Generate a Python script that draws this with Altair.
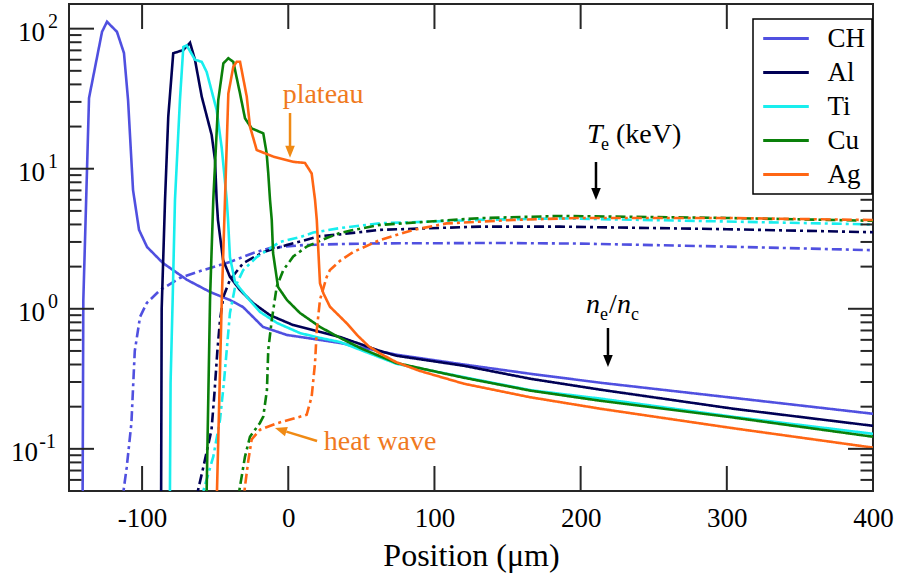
import altair as alt
import pandas as pd

FONT = "Liberation Serif"
FRAME = "#262626"
ORANGE_TXT = "#F07A1E"
ORANGE_ARW = "#F08A14"

materials = ["CH", "Al", "Ti", "Cu", "Ag"]
colors = ["#5050E0", "#000055", "#18EEEE", "#0A800A", "#FF6614"]

# ---------------- n_e / n_c (solid) ----------------
ch_ne_x = [-140.7, -140.2, -136.3, -127.4, -124.0, -117.2, -112.4, -109.6, -106.2, -102.1, -96.6, -85.7, -69.3, -53.6, -39.9, -31.0, -24.1, -17.3, -0.9, 12.8, 35.4, 74, 120, 166, 214, 305, 400]
ch_ne_y = [0.04, 1.15, 32, 95, 112, 95, 67, 31, 7.05, 3.66, 2.76, 2.12, 1.61, 1.32, 1.155, 1.03, 0.874, 0.742, 0.65, 0.619, 0.57, 0.47, 0.40, 0.343, 0.296, 0.231, 0.178]

al_ne_x = [-87.0, -86.6, -84.3, -82.1, -78.7, -71.8, -67.2, -63.8, -59.2, -52.4, -50.1, -49.0, -48.1, -44.6, -39.9, -33.0, -24.1, -12.5, 3.2, 21.7, 35.4, 62.7, 74, 120, 166, 214, 305, 400]
al_ne_y = [0.04, 1.0, 6.0, 23.5, 66.7, 70.4, 79.4, 59.8, 32.7, 17.4, 11.5, 6.0, 4.3, 2.23, 1.69, 1.36, 1.10, 0.90, 0.766, 0.683, 0.629, 0.50, 0.462, 0.392, 0.316, 0.264, 0.193, 0.146]

ti_ne_x = [-81.0, -80.5, -79.1, -77.5, -74.1, -71.8, -69.5, -63.8, -59.2, -55.8, -49.0, -45.5, -42.1, -41.2, -39.9, -36.4, -28.2, -19.3, -7.7, 8.0, 21.7, 35.4, 74, 120, 166, 214, 305, 400]
ti_ne_y = [0.04, 0.3, 1.15, 6.0, 31, 74, 76, 60, 58, 49, 26.3, 14, 6.0, 4.31, 2.34, 1.55, 1.21, 0.949, 0.792, 0.671, 0.619, 0.579, 0.405, 0.325, 0.262, 0.228, 0.169, 0.128]

cu_ne_x = [-56.0, -53.5, -51.3, -47.9, -44.4, -41.0, -37.6, -33.0, -29.6, -25.0, -17.1, -14.8, -13.7, -12.5, -11.3, -10.4, -7.0, -0.9, 8.0, 21.7, 35.4, 50, 74, 120, 166, 214, 305, 400]
cu_ne_y = [0.04, 1.2, 6.0, 30.9, 56.6, 61.5, 58, 34.4, 22.9, 19.4, 17.9, 12.9, 9.3, 6.0, 4.3, 2.5, 1.43, 1.155, 0.933, 0.742, 0.62, 0.52, 0.41, 0.322, 0.26, 0.22, 0.167, 0.122]

ag_ne_x = [-49.0, -45.5, -43.3, -41.0, -37.6, -35.3, -33.0, -28.4, -26.2, -21.6, -10.2, 3.4, 11.4, 16.0, 18.3, 19.5, 21.7, 24.0, 28.5, 40.0, 47, 55, 62.7, 74, 90, 120, 165, 214, 305, 400]
ag_ne_y = [0.04, 1.15, 6.0, 34.4, 53.5, 58, 58, 32.7, 20, 13.6, 12.2, 11.2, 11.0, 9.25, 6.0, 4.31, 1.52, 1.29, 1.035, 0.788, 0.65, 0.54, 0.48, 0.415, 0.36, 0.292, 0.234, 0.193, 0.140, 0.102]

# ---------------- T_e in keV (dash-dot) ----------------
ch_te_x = [-114, -110.5, -107.3, -106, -105, -101.4, -96.8, -87.7, -74.1, -58.1, -39.9, -23.9, -12.5, 10.3, 35.4, 63, 145, 200, 300, 400]
ch_te_y = [0.04, 0.074, 0.153, 0.3, 0.5, 0.874, 1.1, 1.36, 1.66, 1.89, 2.16, 2.5, 2.72, 2.85, 2.9, 2.93, 2.95, 2.92, 2.78, 2.62]

al_te_x = [-64, -58.1, -52.5, -50.5, -48.5, -46.7, -44.4, -39.9, -30.8, -17.1, -1.1, 21.7, 35.4, 62.8, 131, 186, 300, 400]
al_te_y = [0.04, 0.074, 0.137, 0.25, 0.5, 0.83, 1.22, 1.61, 2.12, 2.54, 2.85, 3.3, 3.4, 3.66, 3.86, 3.86, 3.7, 3.52]

ti_te_x = [-60, -58.1, -51.3, -46.7, -44, -42.1, -39.9, -36.4, -30.8, -21.6, -10.2, -5.7, 8, 17.1, 35.4, 62.8, 131.2, 186, 300, 400]
ti_te_y = [0.04, 0.05, 0.088, 0.161, 0.3, 0.507, 0.933, 1.43, 1.89, 2.34, 2.8, 3.0, 3.25, 3.5, 3.77, 4.08, 4.31, 4.42, 4.2, 4.0]

cu_te_x = [-35, -33.0, -29.6, -26.2, -19.4, -17.1, -14.6, -13.7, -11.3, -7.9, -3.4, 3.4, 12.6, 26.3, 35.4, 44.3, 62.8, 131.2, 186, 300, 400]
cu_te_y = [0.04, 0.054, 0.088, 0.122, 0.153, 0.17, 0.263, 0.507, 0.83, 1.44, 1.89, 2.36, 2.78, 3.2, 3.48, 3.65, 3.97, 4.44, 4.6, 4.45, 4.25]

ag_te_x = [-31, -29.6, -27.3, -25.0, -19.3, -7.9, 12.6, 16.0, 18.3, 19.5, 21.7, 26.3, 28.5, 35.4, 44.6, 62.8, 85.6, 108.4, 154, 200, 300, 400]
ag_te_y = [0.04, 0.054, 0.083, 0.117, 0.137, 0.152, 0.175, 0.236, 0.41, 0.705, 1.16, 1.69, 1.89, 2.2, 2.55, 3.1, 3.66, 4.07, 4.31, 4.45, 4.45, 4.3]

# ---------------- axes ----------------
x_ticks = [-100, 0, 100, 200, 300, 400]
y_major = [0.1, 1, 10, 100]
y_exp = ["-1", "0", "1", "2"]
y_minor = [0.05, 0.06, 0.07, 0.08, 0.09, 0.2, 0.3, 0.4, 0.5, 0.6, 0.7, 0.8, 0.9,
           2, 3, 4, 5, 6, 7, 8, 9, 20, 30, 40, 50, 60, 70, 80, 90]

# ---------------- annotations (data units) ----------------
orange_labels = ["plateau", "heat wave"]
orange_label_x = [23.8, 62.8]
orange_label_y = [29.5, 0.098]

ital_txt = ["T", "n", "n"]
ital_x = [204.3, 203.7, 224.9]
ital_y = [15.3, 0.933, 0.933]
sub_txt = ["e", "e", "c"]
sub_x = [213.9, 213.3, 234.5]
sub_y = [13.6, 0.832, 0.832]
plain_txt = ["(keV)", "/"]
plain_x = [224.2, 219.4]
plain_y = [15.3, 0.933]

# arrows: shaft start/end and head centre
down_black_x = [210.5, 218.7]
down_black_y1 = [11.17, 0.729]
down_black_y2 = [7.28, 0.468]
down_black_head = [6.6, 0.424]
down_orange_x = [1.2]
down_orange_y1 = [25.0]
down_orange_y2 = [14.5]
down_orange_head = [13.2]
hw_x1, hw_y1, hw_x2, hw_y2 = [19.7], [0.1138], [-1.3], [0.1328]
hw_head_x, hw_head_y = [-5.2], [0.1368]

W, H = 804, 487

series = [
    ("CH", "ne", ch_ne_x, ch_ne_y), ("CH", "Te", ch_te_x, ch_te_y),
    ("Al", "ne", al_ne_x, al_ne_y), ("Al", "Te", al_te_x, al_te_y),
    ("Ti", "ne", ti_ne_x, ti_ne_y), ("Ti", "Te", ti_te_x, ti_te_y),
    ("Cu", "ne", cu_ne_x, cu_ne_y), ("Cu", "Te", cu_te_x, cu_te_y),
    ("Ag", "ne", ag_ne_x, ag_ne_y), ("Ag", "Te", ag_te_x, ag_te_y),
]
rows = []
for m, k, xs_, ys_ in series:
    for i, (a, b) in enumerate(zip(xs_, ys_)):
        rows.append({"material": m, "kind": k, "series": m + k, "i": i, "x": a, "y": b})
df = pd.DataFrame(rows)

xsc = alt.Scale(domain=[-150, 400], nice=False, zero=False)
ysc = alt.Scale(type="log", domain=[0.05, 150], nice=False)
xaxis = alt.Axis(
    values=x_ticks, labelExpr="'' + datum.value", ticks=False, domain=False, grid=False,
    labelFont=FONT, labelFontSize=27, labelColor="black", labelPadding=14,
    labelFlush=False, labelOverlap=False,
    title="Position (μm)", titleFont=FONT, titleFontSize=32, titleFontWeight="normal",
    titleColor="black", titlePadding=9)


def X(field):
    return alt.X(field, scale=xsc, axis=xaxis)


def Y(field):
    return alt.Y(field, scale=ysc, axis=None)


lines = alt.Chart(df).mark_line(clip=True, strokeWidth=2.6).encode(
    x=X("x:Q"),
    y=Y("y:Q"),
    color=alt.Color("material:N", scale=alt.Scale(domain=materials, range=colors),
                    legend=alt.Legend(title=None, orient="none", legendX=684, legendY=15,
                                      padding=6, strokeColor="black", fillColor="white",
                                      labelFont=FONT, labelFontSize=27, labelColor="black",
                                      labelOffset=28, symbolOffset=13.5, symbolSize=576,
                                      symbolStrokeWidth=3, symbolType="M-1.9,0H1.9",
                                      rowPadding=6, labelLimit=300)),
    strokeDash=alt.StrokeDash("kind:N", scale=alt.Scale(domain=["ne", "Te"], range=[[1, 0], [10, 4, 3, 4]]), legend=None),
    detail="series:N",
    order=alt.Order("i:Q"),
)

# ticks
xt = pd.DataFrame({"x": x_ticks})
ymj = pd.DataFrame({"y": y_major})
ymn = pd.DataFrame({"y": y_minor})
rule = dict(color=FRAME, strokeWidth=2)
ticks = [
    alt.Chart(xt).mark_rule(**rule).encode(x=X("x:Q"), y=alt.value(H), y2=alt.value(H - 25)),
    alt.Chart(xt).mark_rule(**rule).encode(x=X("x:Q"), y=alt.value(0), y2=alt.value(25)),
    alt.Chart(ymj).mark_rule(**rule).encode(y=Y("y:Q"), x=alt.value(0), x2=alt.value(25)),
    alt.Chart(ymj).mark_rule(**rule).encode(y=Y("y:Q"), x=alt.value(W), x2=alt.value(W - 25)),
    alt.Chart(ymn).mark_rule(**rule).encode(y=Y("y:Q"), x=alt.value(0), x2=alt.value(12.5)),
    alt.Chart(ymn).mark_rule(**rule).encode(y=Y("y:Q"), x=alt.value(W), x2=alt.value(W - 12.5)),
]

# y tick labels (10 with superscript exponent)
yl = pd.DataFrame({"y": y_major, "e": y_exp})
base_pos = alt.Chart(yl).transform_filter("datum.y >= 1").mark_text(
    align="right", baseline="middle", font=FONT, fontSize=27, dy=4, color="black").encode(
    x=alt.value(-24), y=Y("y:Q"), text=alt.value("10"))
base_neg = alt.Chart(yl).transform_filter("datum.y < 1").mark_text(
    align="right", baseline="middle", font=FONT, fontSize=27, dy=4, color="black").encode(
    x=alt.value(-31), y=Y("y:Q"), text=alt.value("10"))
expo_pos = alt.Chart(yl).transform_filter("datum.y >= 1").mark_text(
    align="right", baseline="middle", font=FONT, fontSize=20, dy=-7, color="black").encode(
    x=alt.value(-11), y=Y("y:Q"), text="e:N")
expo_neg = alt.Chart(yl).transform_filter("datum.y < 1").mark_text(
    align="right", baseline="middle", font=FONT, fontSize=20, dy=-7, color="black").encode(
    x=alt.value(-13), y=Y("y:Q"), text="e:N")

# annotation texts
t_orange = alt.Chart(pd.DataFrame({"t": orange_labels, "x": orange_label_x, "y": orange_label_y})).mark_text(
    align="center", baseline="alphabetic", font=FONT, fontSize=28, color=ORANGE_TXT).encode(x=X("x:Q"), y=Y("y:Q"), text="t:N")
t_ital = alt.Chart(pd.DataFrame({"t": ital_txt, "x": ital_x, "y": ital_y})).mark_text(
    align="left", baseline="alphabetic", font=FONT, fontSize=28, fontStyle="italic", color="black").encode(x=X("x:Q"), y=Y("y:Q"), text="t:N")
t_sub = alt.Chart(pd.DataFrame({"t": sub_txt, "x": sub_x, "y": sub_y})).mark_text(
    align="left", baseline="alphabetic", font=FONT, fontSize=18, color="black").encode(x=X("x:Q"), y=Y("y:Q"), text="t:N")
t_plain = alt.Chart(pd.DataFrame({"t": plain_txt, "x": plain_x, "y": plain_y})).mark_text(
    align="left", baseline="alphabetic", font=FONT, fontSize=28, color="black").encode(x=X("x:Q"), y=Y("y:Q"), text="t:N")

# arrows
HEAD = "M-0.8,-1L0.8,-1L0,1Z"
shaft_enc = dict(x=X("x:Q"), x2="x2:Q", y=Y("y:Q"), y2="y2:Q")
ab = pd.DataFrame({"x": down_black_x, "x2": down_black_x, "y": down_black_y1, "y2": down_black_y2, "h": down_black_head})
ao = pd.DataFrame({"x": down_orange_x, "x2": down_orange_x, "y": down_orange_y1, "y2": down_orange_y2, "h": down_orange_head})
ah = pd.DataFrame({"x": hw_x1, "x2": hw_x2, "y": hw_y1, "y2": hw_y2, "hx": hw_head_x, "hy": hw_head_y})
arrows = [
    alt.Chart(ab).mark_rule(color="black", strokeWidth=2.5).encode(**shaft_enc),
    alt.Chart(ab).mark_point(shape=HEAD, filled=True, size=144, color="black", opacity=1).encode(
        x=X("x:Q"), y=Y("h:Q")),
    alt.Chart(ao).mark_rule(color=ORANGE_ARW, strokeWidth=2.5).encode(**shaft_enc),
    alt.Chart(ao).mark_point(shape=HEAD, filled=True, size=144, color=ORANGE_ARW, opacity=1).encode(
        x=X("x:Q"), y=Y("h:Q")),
    alt.Chart(ah).mark_rule(color=ORANGE_ARW, strokeWidth=2.5).encode(**shaft_enc),
    alt.Chart(ah).mark_point(shape=HEAD, filled=True, size=144, color=ORANGE_ARW, opacity=1, angle=107.7).encode(
        x=X("hx:Q"), y=Y("hy:Q")),
]

chart = alt.layer(
    lines, *ticks, base_pos, base_neg, expo_pos, expo_neg, t_orange, t_ital, t_sub, t_plain, *arrows
).properties(
    width=W, height=H,
    autosize=alt.AutoSizeParams(type="none"),
    padding={"left": 69, "top": 4, "right": 27, "bottom": 88},
).configure_view(
    stroke=FRAME, strokeWidth=2
).configure_legend(
    strokeWidth=1.5
)

chart.save("out.html", embed_options={"renderer": "svg", "actions": False})
